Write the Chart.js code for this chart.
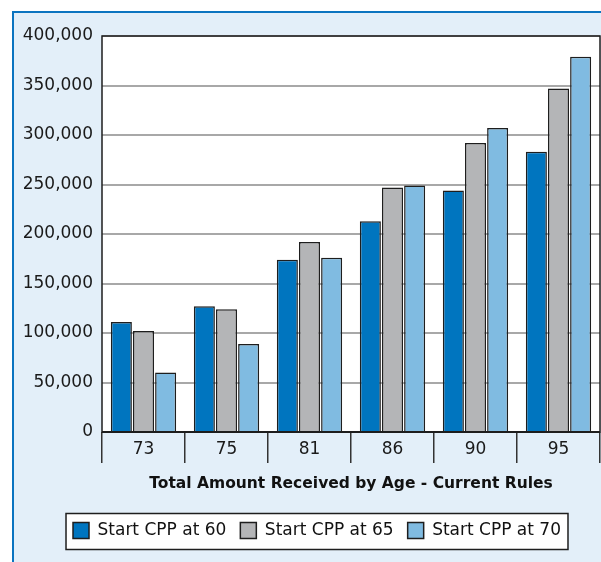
<!DOCTYPE html>
<html>
<head>
<meta charset="utf-8">
<script src="https://cdn.jsdelivr.net/npm/chart.js@4.4.0/dist/chart.umd.min.js"></script>
<style>
  html, body { margin: 0; padding: 0; background: #fff; }
  #frame { position: absolute; left: 12px; top: 11px; right: 0; bottom: 0; background: #e3eff9;
           border-left: 2px solid #0b74c0; border-top: 2px solid #0b74c0; }
  #wrap { position: absolute; left: 0; top: 0; width: 601px; height: 562px; }
</style>
</head>
<body>
<div id="frame"></div>
<div id="wrap"><canvas id="cppChart"></canvas></div>
<script>
// chart data
const ages = ["73", "75", "81", "86", "90", "95"];
const startAt60 = [111000, 127000, 174000, 213000, 244000, 283000];
const startAt65 = [102000, 124000, 192000, 247000, 292000, 347000];
const startAt70 = [60000, 89000, 176000, 249000, 307000, 379000];
const seriesLabels = ["Start CPP at 60", "Start CPP at 65", "Start CPP at 70"];
const xTitle = "Total Amount Received by Age - Current Rules";

const fontFamily = "'DejaVu Sans', sans-serif";
const edge = "#1e1e1e";

// white plot area, outlined plot and white legend box
const plotBox = {
    id: "plotBox",
    afterLayout(chart) {
        // legend sits a bit right of the canvas centre in the original
        chart.legend.left += 34;
    },
    beforeDraw(chart) {
        const {ctx, chartArea: a} = chart;
        ctx.save();
        ctx.fillStyle = "#fff";
        ctx.fillRect(a.left, a.top, a.width, a.height);

        const boxes = chart.legend.legendHitBoxes;
        if (boxes && boxes.length) {
            const l = Math.min(...boxes.map(b => b.left)) - 7;
            const r = Math.max(...boxes.map(b => b.left + b.width)) + 7;
            const cy = boxes[0].top + boxes[0].height / 2 + 1;
            ctx.fillRect(l, cy - 18, r - l, 36);
            ctx.strokeStyle = edge;
            ctx.lineWidth = 1.5;
            ctx.strokeRect(l, cy - 18, r - l, 36);
        }
        ctx.restore();
    },
    beforeDatasetsDraw(chart) {
        const {ctx, chartArea: a} = chart;
        ctx.save();
        ctx.strokeStyle = edge;
        ctx.lineWidth = 1.5;
        ctx.strokeRect(a.left, a.top, a.width, a.height);
        ctx.restore();
    }
};

const ctx = document.getElementById("cppChart").getContext("2d");
new Chart(ctx, {
    type: "bar",
    data: {
        labels: ages,
        datasets: [
            {label: seriesLabels[0], data: startAt60, backgroundColor: "#0075bf"},
            {label: seriesLabels[1], data: startAt65, backgroundColor: "#b4b5b7"},
            {label: seriesLabels[2], data: startAt70, backgroundColor: "#80bbe1"}
        ].map(d => Object.assign(d, {
            borderColor: edge,
            borderWidth: 1.5,
            categoryPercentage: 0.8,
            barPercentage: 0.95
        }))
    },
    options: {
        responsive: true,
        maintainAspectRatio: false,
        animation: false,
        layout: {padding: {left: 0, right: 1, top: 36, bottom: 13}},
        plugins: {
            tooltip: {enabled: false},
            legend: {
                position: "bottom",
                labels: {
                    boxWidth: 16,
                    boxHeight: 16,
                    padding: 14,
                    color: "#111",
                    font: {family: fontFamily, size: 17}
                }
            }
        },
        scales: {
            x: {
                border: {display: false},
                grid: {drawOnChartArea: false, tickLength: 31, color: "#333", lineWidth: 1.5},
                ticks: {padding: -24, color: "#1a1a1a", font: {family: fontFamily, size: 17}},
                title: {
                    display: true,
                    text: xTitle,
                    color: "#111",
                    padding: {top: 0, bottom: 15},
                    font: {family: fontFamily, size: 15.5, weight: "bold"}
                },
                afterFit: scale => { scale.height = 76; }
            },
            y: {
                min: 0,
                max: 400000,
                border: {display: false},
                grid: {
                    drawTicks: false,
                    lineWidth: 2,
                    color: c => c.tick.value === 0 ? edge : "#a8a8a8"
                },
                ticks: {
                    stepSize: 50000,
                    padding: 9,
                    color: "#1a1a1a",
                    font: {family: fontFamily, size: 17},
                    callback: v => v.toLocaleString("en-US")
                },
                afterFit: scale => { scale.width = 102; }
            }
        }
    },
    plugins: [plotBox]
});
</script>
</body>
</html>
